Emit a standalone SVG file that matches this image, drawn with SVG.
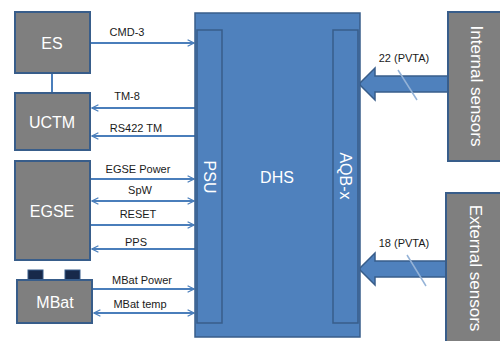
<svg xmlns="http://www.w3.org/2000/svg" width="500" height="341" viewBox="0 0 500 341">
<style>
.box{fill:#7f7f7f;stroke:#385d8a;stroke-width:2}
.blue{fill:#4f81bd;stroke:#385d8a;stroke-width:1.5}
.bt{font-family:"Liberation Sans",Arial,sans-serif;font-size:16px;fill:#ffffff;text-anchor:middle;dominant-baseline:central}
.st{font-family:"Liberation Sans",Arial,sans-serif;font-size:17px;fill:#ffffff;text-anchor:middle;dominant-baseline:central}
.lbl{font-family:"Liberation Sans",Arial,sans-serif;font-size:11px;fill:#1a1a1a;text-anchor:middle}
.ln{stroke:#4a7ebb;stroke-width:2;fill:none}
.term{fill:#17294a;stroke:#385d8a;stroke-width:1}
.slash{stroke:#95b3d7;stroke-width:1.5}
</style>
<defs>
<marker id="ah" viewBox="0 0 10 10" refX="9" refY="5" markerWidth="8" markerHeight="8" markerUnits="userSpaceOnUse" orient="auto-start-reverse">
<polyline points="1,1 9,5 1,9" fill="none" stroke="#4a7ebb" stroke-width="1.6"/>
</marker>
</defs>
<rect width="500" height="341" fill="#ffffff"/>
<g id="connectors">
<line class="ln" x1="52" y1="73" x2="52" y2="93"/>
<line class="ln" x1="90" y1="43" x2="194" y2="43" marker-end="url(#ah)"/>
<line class="ln" x1="195" y1="108" x2="92" y2="108" marker-end="url(#ah)"/>
<line class="ln" x1="195" y1="136" x2="92" y2="136" marker-end="url(#ah)"/>
<line class="ln" x1="90" y1="179" x2="194" y2="179" marker-end="url(#ah)"/>
<line class="ln" x1="92" y1="201" x2="194" y2="201" marker-start="url(#ah)" marker-end="url(#ah)"/>
<line class="ln" x1="90" y1="225" x2="194" y2="225" marker-end="url(#ah)"/>
<line class="ln" x1="195" y1="249" x2="92" y2="249" marker-end="url(#ah)"/>
<line class="ln" x1="92" y1="289" x2="194" y2="289" marker-end="url(#ah)"/>
<line class="ln" x1="94" y1="313" x2="194" y2="313" marker-start="url(#ah)" marker-end="url(#ah)"/>
<polygon class="blue" points="448,76 375,76 375,68 359,84 375,100 375,92 448,92"/>
<line class="slash" x1="398" y1="70" x2="417" y2="100"/>
<polygon class="blue" points="446,261 375,261 375,253 359,269 375,285 375,277 446,277"/>
<line class="slash" x1="407" y1="255" x2="426" y2="286"/>
<text class="lbl" x="127" y="36">CMD-3</text>
<text class="lbl" x="127" y="100">TM-8</text>
<text class="lbl" x="136" y="132">RS422 TM</text>
<text class="lbl" x="138" y="173">EGSE Power</text>
<text class="lbl" x="140" y="194">SpW</text>
<text class="lbl" x="138" y="218">RESET</text>
<text class="lbl" x="136" y="246">PPS</text>
<text class="lbl" x="142" y="284">MBat Power</text>
<text class="lbl" x="140" y="308">MBat temp</text>
<text class="lbl" x="404" y="62">22 (PVTA)</text>
<text class="lbl" x="404" y="247">18 (PVTA)</text>
</g>
<g id="es"><rect class="box" x="15" y="12" width="75" height="61"/><text class="bt" x="52" y="43">ES</text></g>
<g id="uctm"><rect class="box" x="15" y="93" width="75" height="57"/><text class="bt" x="52" y="122">UCTM</text></g>
<g id="egse"><rect class="box" x="15" y="161" width="75" height="99"/><text class="bt" x="52" y="211">EGSE</text></g>
<g id="mbat">
<rect class="term" x="28" y="270" width="15" height="10"/>
<rect class="term" x="65" y="270" width="15" height="10"/>
<rect class="box" x="17" y="280" width="75" height="43"/><text class="bt" x="55" y="302">MBat</text></g>
<g id="dhs">
<rect class="blue" x="195" y="13" width="165" height="324"/>
<text class="bt" x="277" y="177">DHS</text>
</g>
<g id="psu"><rect class="blue" x="197" y="30" width="25" height="293"/><text class="bt" transform="translate(209,177) rotate(90)">PSU</text></g>
<g id="aqb"><rect class="blue" x="333" y="30" width="25" height="293"/><text class="bt" transform="translate(345,176) rotate(90)">AQB-x</text></g>
<g id="internal"><rect class="box" x="448" y="12" width="60" height="149"/><text class="st" transform="translate(476,86) rotate(90)">Internal sensors</text></g>
<g id="external"><rect class="box" x="446" y="193" width="62" height="160"/><text class="st" transform="translate(475,268) rotate(90)">External sensors</text></g>
</svg>
